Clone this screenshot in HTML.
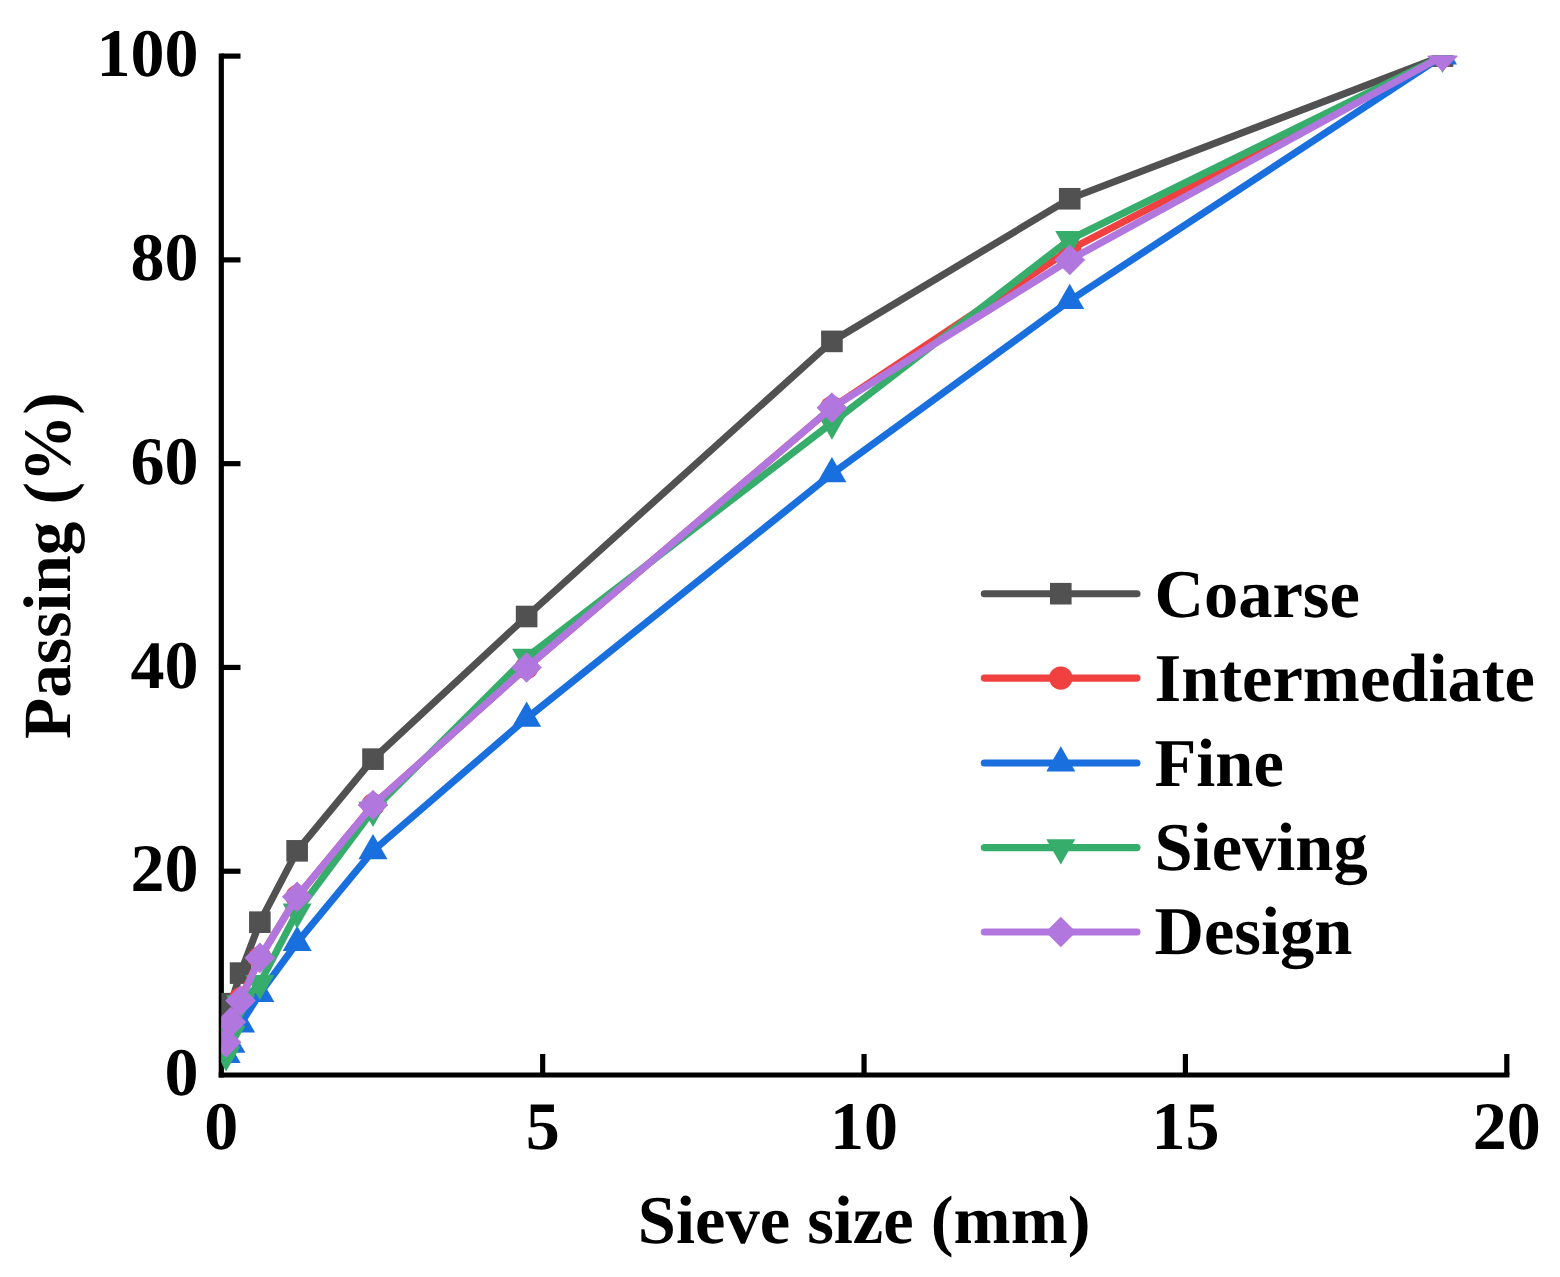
<!DOCTYPE html>
<html lang="en">
<head>
<meta charset="utf-8">
<title>Passing (%) vs Sieve size (mm)</title>
<style>
html,body{margin:0;padding:0;background:#fff;}
body{width:1560px;height:1277px;overflow:hidden;}
svg{display:block;}
text{text-rendering:geometricPrecision;font-family:"Liberation Serif",serif;font-weight:bold;fill:#000;}
</style>
</head>
<body>
<svg width="1560" height="1277" viewBox="0 0 1560 1277">
<rect x="0" y="0" width="1560" height="1277" fill="#ffffff"/>
<defs><clipPath id="plot"><rect x="221.3" y="55.5" width="1285.5" height="1019.5"/></clipPath></defs>
<g id="axes" stroke="#000" stroke-width="5.2" fill="none" stroke-linecap="butt">
<line x1="221.3" y1="53.5" x2="221.3" y2="1077.6"/>
<line x1="218.7" y1="1075" x2="1509.4" y2="1075"/>
<line x1="221.3" y1="871.22" x2="240.5" y2="871.22"/>
<line x1="221.3" y1="667.44" x2="240.5" y2="667.44"/>
<line x1="221.3" y1="463.66" x2="240.5" y2="463.66"/>
<line x1="221.3" y1="259.88" x2="240.5" y2="259.88"/>
<line x1="221.3" y1="56.1" x2="240.5" y2="56.1"/>
<line x1="542.67" y1="1075" x2="542.67" y2="1054"/>
<line x1="864.05" y1="1075" x2="864.05" y2="1054"/>
<line x1="1185.42" y1="1075" x2="1185.42" y2="1054"/>
<line x1="1506.8" y1="1075" x2="1506.8" y2="1054"/>
</g>
<g id="ylabels" text-anchor="end" font-size="68">
<text x="198.6" y="1095.2">0</text>
<text x="198.6" y="891.42">20</text>
<text x="198.6" y="687.64">40</text>
<text x="198.6" y="483.86">60</text>
<text x="198.6" y="280.08">80</text>
<text x="198.6" y="76.3">100</text>
</g>
<g id="xlabels" text-anchor="middle" font-size="68">
<text x="221.3" y="1149">0</text>
<text x="542.67" y="1149">5</text>
<text x="864.05" y="1149">10</text>
<text x="1185.42" y="1149">15</text>
<text x="1506.8" y="1149">20</text>
</g>
<text id="xtitle" font-size="68.5" text-anchor="middle" x="864.2" y="1243.2">Sieve size (mm)</text>
<text id="ytitle" font-size="67.5" text-anchor="middle" transform="translate(69.5 565.6) rotate(-90)">Passing (%)</text>
<g id="series" clip-path="url(#plot)">
<g>
<polyline points="226.12,1024.06 230.94,1003.68 240.58,973.11 259.87,922.16 297.14,850.84 372.99,759.14 526.61,616.5 831.91,341.39 1069.73,198.75 1442.52,56.1" fill="none" stroke="#515151" stroke-width="7.1" stroke-linejoin="round" stroke-linecap="round"/>
<rect x="215.32" y="1013.26" width="21.6" height="21.6" fill="#515151"/>
<rect x="220.14" y="992.88" width="21.6" height="21.6" fill="#515151"/>
<rect x="229.78" y="962.31" width="21.6" height="21.6" fill="#515151"/>
<rect x="249.06" y="911.37" width="21.6" height="21.6" fill="#515151"/>
<rect x="286.34" y="840.04" width="21.6" height="21.6" fill="#515151"/>
<rect x="362.19" y="748.34" width="21.6" height="21.6" fill="#515151"/>
<rect x="515.81" y="605.7" width="21.6" height="21.6" fill="#515151"/>
<rect x="821.11" y="330.59" width="21.6" height="21.6" fill="#515151"/>
<rect x="1058.93" y="187.95" width="21.6" height="21.6" fill="#515151"/>
<rect x="1431.72" y="45.3" width="21.6" height="21.6" fill="#515151"/>
</g>
<g>
<polyline points="226.12,1039.34 230.94,1024.06 240.58,998.58 259.87,957.83 297.14,896.69 372.99,804.99 526.61,667.44 831.91,407.62 1069.73,249.69 1442.52,56.1" fill="none" stroke="#F14040" stroke-width="7.1" stroke-linejoin="round" stroke-linecap="round"/>
<circle cx="226.12" cy="1039.34" r="11.7" fill="#F14040"/>
<circle cx="230.94" cy="1024.06" r="11.7" fill="#F14040"/>
<circle cx="240.58" cy="998.58" r="11.7" fill="#F14040"/>
<circle cx="259.87" cy="957.83" r="11.7" fill="#F14040"/>
<circle cx="297.14" cy="896.69" r="11.7" fill="#F14040"/>
<circle cx="372.99" cy="804.99" r="11.7" fill="#F14040"/>
<circle cx="526.61" cy="667.44" r="11.7" fill="#F14040"/>
<circle cx="831.91" cy="407.62" r="11.7" fill="#F14040"/>
<circle cx="1069.73" cy="249.69" r="11.7" fill="#F14040"/>
<circle cx="1442.52" cy="56.1" r="11.7" fill="#F14040"/>
</g>
<g>
<polyline points="226.12,1054.62 230.94,1044.43 240.58,1024.06 259.87,993.49 297.14,942.54 372.99,850.84 526.61,718.38 831.91,473.85 1069.73,300.64 1442.52,56.1" fill="none" stroke="#1A6FDF" stroke-width="7.1" stroke-linejoin="round" stroke-linecap="round"/>
<polygon points="226.12,1037.82 240.62,1063.02 211.62,1063.02" fill="#1A6FDF"/>
<polygon points="230.94,1027.63 245.44,1052.83 216.44,1052.83" fill="#1A6FDF"/>
<polygon points="240.58,1007.26 255.08,1032.46 226.08,1032.46" fill="#1A6FDF"/>
<polygon points="259.87,976.69 274.37,1001.89 245.37,1001.89" fill="#1A6FDF"/>
<polygon points="297.14,925.74 311.64,950.94 282.64,950.94" fill="#1A6FDF"/>
<polygon points="372.99,834.04 387.49,859.24 358.49,859.24" fill="#1A6FDF"/>
<polygon points="526.61,701.59 541.11,726.78 512.11,726.78" fill="#1A6FDF"/>
<polygon points="831.91,457.05 846.41,482.25 817.41,482.25" fill="#1A6FDF"/>
<polygon points="1069.73,283.84 1084.23,309.04 1055.23,309.04" fill="#1A6FDF"/>
<polygon points="1442.52,39.3 1457.02,64.5 1428.02,64.5" fill="#1A6FDF"/>
</g>
<g>
<polyline points="226.12,1054.62 230.94,1034.24 240.58,1003.68 259.87,983.3 297.14,911.98 372.99,810.09 526.61,657.25 831.91,422.9 1069.73,239.5 1442.52,56.1" fill="none" stroke="#37AD6B" stroke-width="7.1" stroke-linejoin="round" stroke-linecap="round"/>
<polygon points="226.12,1071.42 240.62,1046.22 211.62,1046.22" fill="#37AD6B"/>
<polygon points="230.94,1051.04 245.44,1025.84 216.44,1025.84" fill="#37AD6B"/>
<polygon points="240.58,1020.48 255.08,995.28 226.08,995.28" fill="#37AD6B"/>
<polygon points="259.87,1000.1 274.37,974.9 245.37,974.9" fill="#37AD6B"/>
<polygon points="297.14,928.78 311.64,903.58 282.64,903.58" fill="#37AD6B"/>
<polygon points="372.99,826.89 387.49,801.69 358.49,801.69" fill="#37AD6B"/>
<polygon points="526.61,674.05 541.11,648.85 512.11,648.85" fill="#37AD6B"/>
<polygon points="831.91,439.7 846.41,414.5 817.41,414.5" fill="#37AD6B"/>
<polygon points="1069.73,256.3 1084.23,231.1 1055.23,231.1" fill="#37AD6B"/>
<polygon points="1442.52,72.9 1457.02,47.7 1428.02,47.7" fill="#37AD6B"/>
</g>
<g>
<polyline points="226.12,1042.4 230.94,1022.02 240.58,1000.62 259.87,957.83 297.14,896.69 372.99,804.99 526.61,667.44 831.91,407.62 1069.73,259.88 1442.52,56.1" fill="none" stroke="#B177DE" stroke-width="7.1" stroke-linejoin="round" stroke-linecap="round"/>
<polygon points="226.12,1027.1 241.12,1042.1 241.12,1042.7 226.12,1057.7 211.12,1042.7 211.12,1042.1" fill="#B177DE"/>
<polygon points="230.94,1006.72 245.94,1021.72 245.94,1022.32 230.94,1037.32 215.94,1022.32 215.94,1021.72" fill="#B177DE"/>
<polygon points="240.58,985.32 255.58,1000.32 255.58,1000.92 240.58,1015.92 225.58,1000.92 225.58,1000.32" fill="#B177DE"/>
<polygon points="259.87,942.53 274.87,957.53 274.87,958.13 259.87,973.13 244.87,958.13 244.87,957.53" fill="#B177DE"/>
<polygon points="297.14,881.39 312.14,896.39 312.14,896.99 297.14,911.99 282.14,896.99 282.14,896.39" fill="#B177DE"/>
<polygon points="372.99,789.69 387.99,804.69 387.99,805.29 372.99,820.29 357.99,805.29 357.99,804.69" fill="#B177DE"/>
<polygon points="526.61,652.14 541.61,667.14 541.61,667.74 526.61,682.74 511.61,667.74 511.61,667.14" fill="#B177DE"/>
<polygon points="831.91,392.32 846.91,407.32 846.91,407.92 831.91,422.92 816.91,407.92 816.91,407.32" fill="#B177DE"/>
<polygon points="1069.73,244.58 1084.73,259.58 1084.73,260.18 1069.73,275.18 1054.73,260.18 1054.73,259.58" fill="#B177DE"/>
<polygon points="1442.52,40.8 1457.52,55.8 1457.52,56.4 1442.52,71.4 1427.52,56.4 1427.52,55.8" fill="#B177DE"/>
</g>
</g>
<g id="legend" font-size="68.5">
<line x1="984.3" y1="593.7" x2="1137" y2="593.7" stroke="#515151" stroke-width="7.1" stroke-linecap="round"/>
<rect x="1050" y="582.9" width="21.6" height="21.6" fill="#515151"/>
<text x="1154.5" y="616.9">Coarse</text>
<line x1="984.3" y1="678.1" x2="1137" y2="678.1" stroke="#F14040" stroke-width="7.1" stroke-linecap="round"/>
<circle cx="1060.8" cy="678.1" r="11.7" fill="#F14040"/>
<text x="1154.5" y="701.1">Intermediate</text>
<line x1="984.3" y1="763" x2="1137" y2="763" stroke="#1A6FDF" stroke-width="7.1" stroke-linecap="round"/>
<polygon points="1060.8,746.2 1075.3,771.4 1046.3,771.4" fill="#1A6FDF"/>
<text x="1154.5" y="785.5">Fine</text>
<line x1="984.3" y1="847.6" x2="1137" y2="847.6" stroke="#37AD6B" stroke-width="7.1" stroke-linecap="round"/>
<polygon points="1060.8,864.4 1075.3,839.2 1046.3,839.2" fill="#37AD6B"/>
<text x="1154.5" y="869.8">Sieving</text>
<line x1="984.3" y1="932" x2="1137" y2="932" stroke="#B177DE" stroke-width="7.1" stroke-linecap="round"/>
<polygon points="1060.8,916.7 1075.8,931.7 1075.8,932.3 1060.8,947.3 1045.8,932.3 1045.8,931.7" fill="#B177DE"/>
<text x="1154.5" y="954.1">Design</text>
</g>
</svg>
</body>
</html>
